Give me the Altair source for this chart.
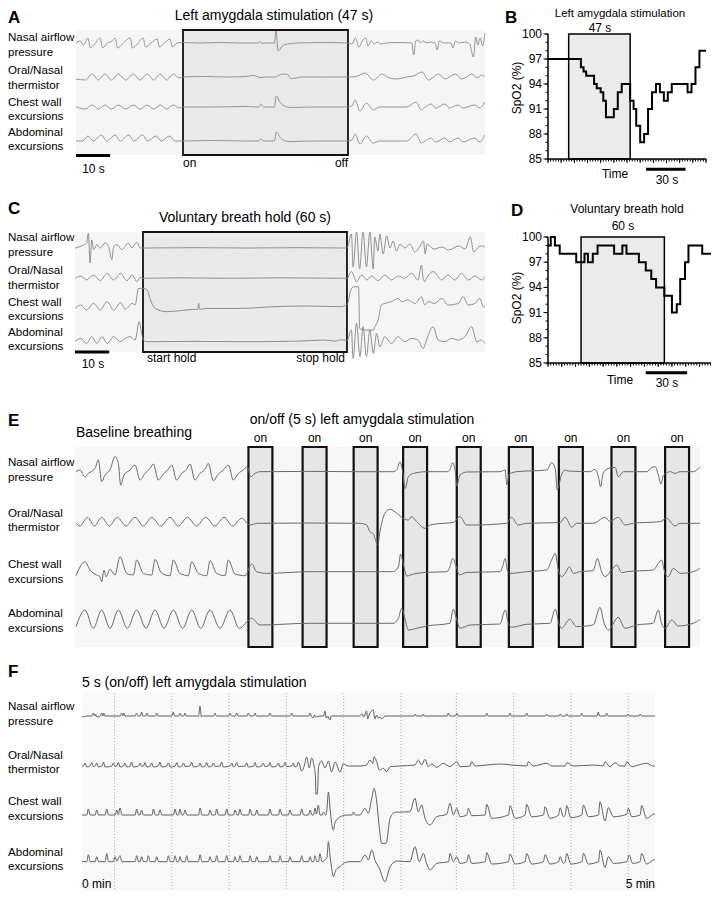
import altair as alt
import pandas as pd

FONT = "Liberation Sans"
W, H = 703, 883
M = 8

# ---------------- Panel A traces: [time s, deflection] pairs ----------------
A_nasal = [0,0, 1.2,2, 2.2,-2, 3.5,5, 4.2,-5, 5.5,-1, 7.1,5, 7.8,-5, 9.2,0, 10.2,1, 11.5,5, 12.2,-5, 13.6,-1, 15.9,5, 16.6,-5, 18,-1, 19.7,5, 20.4,-4, 22,0, 23.8,4, 24.5,-4, 26,0, 27.6,4, 28.3,-4, 29.6,0, 31.4,0.5, 36,0, 42,0.5, 48,0, 53.5,0, 54,1.5, 54.5,-0.5, 55.2,0, 58.2,0, 58.7,12, 59.3,-8, 60.5,-3, 62,-1, 65,0, 72,0.5, 79.6,0, 81,-1, 82,5, 83,-4, 84,2, 85,5, 85.7,-3, 86.6,2, 87.5,-1, 88.5,1, 89.5,-1, 91,0, 95,0.5, 98.5,0, 99.1,-12, 99.7,2, 100.3,3, 101,0, 101.8,2, 103,0, 104,1, 105.3,0, 106,-7, 106.6,2, 108,0, 110,0, 110.6,-5, 111.3,2, 112.5,0, 114,1, 115.5,-1, 116.6,-14, 117.3,6, 117.9,-2, 118.6,5, 119.3,-3, 120,10]
A_oral = [0,-2, 2.8,-3, 4.7,3, 6.6,-3, 8.5,3, 10.4,-3, 12.4,3, 14.6,-3, 16.8,3, 18.8,-3, 20.9,3, 22.8,-3, 24.7,3, 26.6,-3, 28.5,3, 30.3,-1, 31.4,0, 38,0.5, 44,0, 50,0.5, 52,1.5, 54,-0.5, 56,0, 58.5,0, 60,2.5, 61.8,3, 63.2,-1.5, 64.5,-1, 66,0, 72,0, 79.6,0, 81,0, 82.5,1, 84.8,4, 87.3,-3, 89.7,3, 92,-1, 94.1,-2, 97,0, 99,1, 101.5,5, 103.4,-3, 106.4,3, 108.3,-2, 111.3,3, 113.2,-2, 116.2,3, 117.6,-1, 119.1,2, 120,0]
A_chest = [0,0, 2.8,-2, 4.7,2, 6.6,-2, 8.5,2, 10.4,-2, 12.4,2, 14.6,-2, 16.8,2, 18.8,-2, 20.9,2, 22.8,-2, 24.7,2, 26.6,-2, 28.5,2, 30.3,-1, 31.4,0, 40,0, 50,0.5, 53.5,0, 54.2,3, 55,0, 58.2,0, 58.8,11, 60,4, 61.5,0.5, 63,-0.5, 70,0, 79.6,0, 81,1, 81.9,7, 83.3,-4, 85.2,4, 87.2,-3, 89,0, 97,0, 99.8,5, 101.3,-3, 102.5,0, 104.2,3, 105.5,-1, 108.2,3, 109.5,-1, 112.1,2, 113.5,-1, 117,2, 118.5,-1, 119.9,5]
A_abd = [0,0, 2,0, 3.5,5, 5,0, 7.5,6, 9,0, 11.5,6, 13,0, 15.5,6, 17,0, 19.5,6, 21,0, 23.5,5, 25,0, 27.5,5, 29,0, 31.4,0, 40,0.5, 50,0, 53.5,0, 54.2,2, 55,0, 58.2,0, 58.8,9, 60,3, 61.5,0, 63,-0.5, 70,0, 79.6,0, 81,1, 81.9,7, 83.3,-3, 85.2,5, 87.2,-2, 89,0, 97,0, 99.8,7, 101.3,-2, 102.5,0, 104.2,3, 105.5,-1, 108.2,3, 109.5,-1, 112.1,3, 113.5,-1, 117,3, 118.5,-1, 119.9,6]

# ---------------- Panel C traces ----------------
C_nasal = [0,0, 1.7,1.7, 3.4,5, 3.9,15, 4.4,-15, 4.9,8, 5.4,-1.7, 6.4,3.3, 7.4,0, 8.8,5, 9.8,1.7, 10.8,-11.7, 11.3,1.7, 12.3,3.3, 13.7,-1.7, 15.7,5, 16.7,0, 18.1,5.7, 19.1,0, 19.9,0, 35,0.3, 50,0, 65,0.3, 79.6,0, 80.9,14, 81.4,-19, 82.4,16, 83.3,-21, 84.3,16, 85.3,-19, 86.3,16, 87.3,-21, 87.7,11, 88.7,-3, 89.2,14, 90.2,-6, 91.2,12, 92.2,0, 93.1,7, 94.1,-3, 95.1,4, 96.6,0, 98,4, 99.5,-4, 101,2, 102,7, 102.5,-6, 103,4, 105,-1, 107.4,1, 109.3,-2, 112.3,2, 114.2,-1, 115.7,11, 116.7,-4, 118.1,1, 119.1,2, 120,1]
C_oral = [0,0, 1.7,2.3, 3.4,-1.7, 5.4,3.3, 7.4,-2.3, 9.4,5, 11.3,-1.7, 13.3,5, 15.2,-2.3, 16.7,3.3, 18.1,-3.3, 19.1,1, 19.9,0, 30,0.5, 45,0, 60,0.5, 79.6,0, 80.9,6.7, 82.4,-3.3, 83.9,3.3, 85.4,-1.7, 86.8,2.3, 88.7,-2.3, 90.7,3.3, 92.6,-1.7, 94.6,2.3, 96.5,0, 98.5,5, 100.4,-1.7, 101.4,13.3, 101.9,0, 102.4,-3.3, 102.9,0, 104.8,6.7, 107.3,-1.7, 109.2,3.3, 111.2,-1.7, 113.1,5, 115.1,-1.7, 117.1,2.3, 119,-1.7, 120,1.7]
C_chest = [0,-1.7, 1.7,1.7, 3.4,-3.3, 5.4,3.3, 7.4,-3.3, 9.4,5, 11.3,-3.3, 13.3,4, 14.7,-2.7, 16.7,3.3, 17.6,1.7, 18.6,18.3, 19.9,18.3, 21.1,16.7, 22.1,6.7, 23,0, 25,-4, 26.9,-5, 30.8,-4, 34.7,-2.7, 35.9,-2.7, 36.2,3.3, 36.5,-2.7, 38.6,-1.7, 48.4,-1.7, 58,0, 67.8,0.7, 77.5,0, 79.6,1.7, 80.9,18.3, 81.9,20, 83,20, 83.3,-21.7, 84.8,-23.3, 87.3,-23.3, 87.8,-20, 88.7,-13.3, 89.7,1.7, 90.7,3.3, 92.6,5, 94.6,8.3, 95.6,5, 97.5,6.7, 99.5,3.3, 101.4,10, 102.4,1.7, 103.4,5, 105.3,3.3, 107.3,8.3, 109.2,1.7, 112.2,3.3, 113.6,10, 115.1,1.7, 117.1,3.3, 118.5,8.3, 119.5,0, 120,1]
C_abd = [0,0, 1.7,3.3, 3.4,-1.7, 4.9,5, 6.4,-1.7, 7.9,5, 9.4,-1.7, 11.3,5, 13.3,0, 14.7,3.3, 16.1,5, 17.6,1.7, 18.8,20, 19.5,8.3, 20,1.7, 21,0, 35,0.3, 50,0, 65,0.5, 73,1.7, 76,0.5, 78,2, 79.6,1, 80.9,11.7, 81.4,-16.7, 82.4,18.3, 83.4,-15, 84.3,15, 85.3,-15, 86.3,11.7, 87.3,-11.7, 88.3,8.3, 89.2,-5, 90.7,5, 92.6,-1.7, 94.6,5, 96.5,0, 98.5,3.3, 100.4,1.7, 101.9,-6.7, 102.9,1.7, 104.8,15, 106.3,1.7, 108.3,0, 110.2,3.3, 112.2,1.7, 114.1,5, 116.1,15, 117.6,0, 119,1.7, 120,-1.7]

# ---------------- Panel E traces ----------------
E_nasal = [0.2,0, 0.96,1.7, 1.9,-5, 2.56,-1.7, 3.84,3.3, 4.48,11.7, 5.12,-10, 5.76,-3.3, 6.72,1.7, 7.68,15, 8.32,8.3, 8.77,-13.3, 9.41,-3.3, 10.56,1.7, 11.52,6.7, 12.48,-8.3, 13.44,-1.7, 14.4,3.3, 15.04,7.7, 16,-8.3, 16.96,-2.3, 17.92,2.3, 18.56,6.7, 19.52,-8.3, 20.48,-1.7, 21.44,2.3, 22.08,7.7, 23.04,-8.3, 24,-1.7, 24.96,2.3, 25.6,8.3, 26.56,-9, 27.52,-2.3, 28.6,2.3, 29.44,6.7, 30.4,-8.3, 31.36,-1.7, 32.32,1.7, 33.09,5, 33.73,-5, 34.56,-1.7, 35.5,0, 45,0.3, 54.7,0, 61.1,0, 61.8,2.3, 62.4,10, 62.9,0, 63.4,-16.7, 64,-5, 65,-1.7, 67.5,0, 71.4,0, 72,2.3, 72.5,9, 73,0, 73.3,-14.3, 73.9,-3.3, 75.2,-0.3, 81.6,0, 82.6,1.7, 82.9,-13.3, 83.4,-2.3, 84.8,0, 90.6,1.7, 91.5,9, 92.2,3.3, 92.6,-18.3, 93.4,-3.3, 94.1,1.7, 94.7,0.7, 98.9,0, 99.8,2.3, 100.5,-5, 100.9,-15, 101.4,-1.7, 102.4,3.3, 103.7,4.3, 104.3,-5, 105.3,0, 109.8,0, 110.7,4.3, 111.4,5, 112,-3.3, 112.5,-12.3, 113,-3.3, 114.3,0, 115.2,-1.7, 116.2,0, 118.7,0, 120,5]
E_oral = [0.2,0, 0.96,-2.7, 2.37,6, 3.71,-2.7, 5.12,6, 6.59,-2.7, 8.13,6, 9.79,-2.7, 11.52,6, 13.12,-2.7, 14.72,6, 16.45,-2.7, 18.24,6, 19.84,-2.7, 21.57,6, 23.36,-2.7, 25.09,6, 26.88,-2.7, 28.61,6, 30.27,-2.7, 32,5, 33.6,-1.7, 35,0, 45,0.3, 54.7,0, 56,-1.7, 56.6,-8.3, 57.3,-10.7, 57.8,-18.3, 58.1,-21.7, 58.6,-6.7, 59.5,10, 60.5,14, 61.8,10, 63,5, 64,3.3, 64.6,6.7, 65.6,1.7, 67.2,-5, 68.2,-1.7, 70.7,0, 72.6,0.7, 73.9,6.7, 75.2,-1.7, 76.5,-1.7, 82.9,0, 83.8,6, 85.1,-1.7, 86.7,0, 93.1,0.7, 94.1,6, 95.4,-4, 96.3,0, 99.5,0, 101.8,6, 102.7,1.7, 104.3,6, 105.6,-1.7, 107.2,0, 112.3,1.7, 113.6,5, 115.2,-2.7, 116.2,0, 120,0]
E_chest = [0.2,-4, 1.92,10, 2.88,1.7, 4.16,-3.3, 4.8,-5, 5.12,-10, 5.57,1.7, 5.95,-5, 6.72,2.3, 7.68,-3.3, 8.64,15, 9.92,-1.7, 11.2,-3.3, 11.84,11.7, 13.12,-1.7, 14.72,-3.3, 15.36,12.3, 16.64,-1.7, 18.24,-4, 18.88,11.7, 20.16,-1.7, 21.76,-4, 22.4,10, 23.68,-1.7, 25.28,-4, 25.92,11, 27.2,-1.7, 28.8,-4, 29.44,11.7, 30.72,-2.3, 32.64,-4, 33.92,7.7, 34.88,0, 36.8,-1.7, 45,0, 54.7,0, 61.1,0, 62.1,5, 62.5,17.7, 63,8.3, 63.7,-4.3, 65,-2.3, 67.5,-0.7, 71.4,0, 72,5, 72.5,13.3, 73.3,3.3, 73.8,-3.3, 75.2,-0.7, 81.6,0, 82.1,5, 82.6,13.3, 83,1.7, 83.5,-1.7, 86.7,0, 90.6,1.7, 91.5,11.7, 92.2,18.3, 92.8,1.7, 93.4,-5, 94.3,0, 94.9,5, 95.7,-1.7, 96.9,0, 99.5,1, 100.3,13.3, 101.1,0, 101.8,-5, 103,1.7, 104,6.7, 105,-1, 105.9,0, 111,1.7, 112,8.3, 112.6,11.7, 113.3,-1.7, 113.9,-5, 114.9,3.3, 116.2,-1.7, 118.7,0, 120,3.3]
E_abd = [0.2,-3.3, 1.92,13.3, 3.52,-5, 5.12,13.3, 6.72,-5, 8.32,13.3, 10.05,-5, 11.84,13.3, 13.63,-5, 15.36,13.3, 17.09,-5, 18.88,13.3, 20.67,-5, 22.4,13.3, 24.13,-5, 25.92,13.3, 27.84,-5, 29.76,13.3, 31.55,-5, 33.92,5, 35.52,-1.7, 45,0, 54.7,0, 61.1,0, 62.1,5, 62.7,15, 63.4,3.3, 64,-6.7, 65.6,-5, 67.5,-2.7, 72,0, 72.6,14, 73.4,1.7, 73.9,-5, 75.8,-1.7, 81.6,-0.7, 82.6,13.3, 83.2,0, 83.8,-4, 86.7,-1, 91.2,0, 92.2,14, 92.9,0, 93.4,-5, 95,4, 96.3,-3.3, 99.5,-1.7, 100.8,16, 101.6,0, 102.4,-6.7, 104.3,6, 105.6,-5, 107.8,-1.7, 111,0, 112,13.3, 112.6,0, 113.3,-5, 114.6,3.3, 115.8,-2.7, 118.7,0, 120,4]

# ---------------- Panel F traces ----------------
F_nasal = [0,0, 0.7,-1, 2,0, 5.2,0, 5.9,3, 6.6,0, 7.1,2, 7.7,-1, 9.6,0, 10.3,3, 11,0, 11.4,3, 12,0, 19.9,0, 20.8,3, 21.5,0, 22,3, 22.5,0, 27.8,0, 28.6,3, 29.3,0, 30.5,0, 31.2,4, 31.9,0, 33.3,0, 33.9,3, 34.6,0, 38.5,0, 39.1,3, 39.8,0, 47,0, 47.8,4, 48.5,0, 50.6,0, 51.3,3, 52,0, 53.3,0, 53.9,3, 54.6,0, 61,0, 61.8,10, 62.5,-1, 63.2,0, 68.9,0, 69.6,3, 70.3,0, 76.8,0, 77.5,3, 78.2,0, 80.3,0, 81,3, 81.7,0, 86.4,0, 87.1,3, 87.8,0, 89.9,0, 90.6,3, 91.3,0, 97.7,0, 98.4,3, 99.1,0, 109.1,0, 109.8,3, 110.5,0, 118.7,0, 119.4,3, 120.1,0, 121.1,-2, 121.6,1, 122.3,-1, 124.6,0, 126.5,0, 127.2,5, 127.9,-2, 128.5,0, 129.8,-4, 130.6,0, 145,0, 146.8,2, 147.5,-1, 149,5, 149.6,-3, 150.3,1, 152.5,6, 153.3,-3, 154.3,1, 155,-2, 156,-1, 157,-3, 158.6,0, 174,0, 174.5,2, 175.1,0, 178.2,0, 178.7,2, 179.3,0, 191.2,0, 191.8,3, 192.5,0, 195.6,0, 196.2,3, 196.9,0, 211.3,0, 211.9,3, 212.6,0, 223.5,0, 224.1,3, 224.8,0, 232.2,0, 232.8,3, 233.5,0, 242.7,0, 243.3,2, 244,0, 249.7,0, 250.3,2, 251,0, 253.2,0, 253.8,2, 254.5,0, 261,0, 261.6,3, 262.3,0, 269.6,0, 270.3,4, 271,0, 274.1,0, 274.7,3, 275.4,0, 285.4,0, 286,2, 286.7,0, 291.6,0, 292.2,2, 292.9,0, 300,0]
F_oral = [0,0, 0.8,0, 1.6,3, 2.5,-1, 4.3,0, 5.1,3.5, 6,-0.5, 6.9,0, 7.7,3, 8.6,-1, 10.4,0, 11.2,4, 12.1,-1, 15.6,0, 16.4,3, 17.3,-0.5, 18.2,0, 19,3.5, 19.9,-1, 21.7,0, 22.5,3, 23.4,-1, 25.2,0, 26,4, 26.9,-1, 29.6,0, 30.4,3, 31.3,-0.5, 32.2,0, 33,3.5, 33.9,-1, 35.7,0, 36.5,3, 37.4,-1, 40,0, 40.8,4, 41.7,-1, 44.4,0, 45.2,3, 46.1,-1, 48.8,0, 49.6,3.5, 50.5,-1, 52.3,0, 53.1,3, 54,-0.5, 56.6,0, 57.4,4, 58.3,-1, 61,0, 61.8,3, 62.7,-1, 64.5,0, 65.3,3.5, 66.2,-1, 68,0, 68.8,3, 69.7,-0.5, 72.3,0, 73.1,4, 74,-1, 77.6,0, 78.4,3, 79.3,-1, 80.2,0, 81,3.5, 81.9,-0.5, 85.4,0, 86.2,3, 87.1,-1, 89.8,0, 90.6,3.5, 91.5,-1, 94.1,0, 94.9,3, 95.8,-0.5, 97.6,0, 98.4,3.5, 99.3,-1, 102,0, 102.8,3, 103.7,-1, 105.5,0, 106.3,3.5, 107.2,-0.5, 109.8,0, 110.6,3, 111.5,-1, 112.5,0, 113.3,4, 115,-5, 116.5,1, 117.6,9, 119,-2, 120.2,8, 121.5,0, 122.2,-10, 122.5,-28, 123.2,-28, 123.9,0, 125.5,5, 127.2,-2, 129,5, 130.7,-6, 132.5,4, 135.1,-6, 136.8,2, 139.4,0, 145.6,0, 149,1, 150.8,6, 152.2,2.7, 152.9,9.3, 154.3,4.3, 155.7,-4, 157.8,-2.3, 159.5,-5.7, 161.3,-0.7, 166.5,0, 174.3,1, 176.1,6, 177.8,1, 179.6,6.7, 181.3,-0.7, 183.1,2, 185.7,-1.3, 189.2,2.7, 192.7,-0.7, 196.2,4.3, 197.9,-0.7, 203.2,0, 204,4.3, 205.8,0, 211.9,1, 218.9,2, 225,1, 232.9,0, 233.7,4.3, 236.3,0, 243.3,2.7, 246,0, 253,0, 253.8,3.3, 257.3,0, 267.7,1, 273,0, 273.8,4.3, 276.4,-0.7, 279.1,3.3, 281.7,0, 284.4,0, 285.2,4.3, 287.8,-0.7, 291.3,1, 295.6,2.7, 299.1,0, 300,0]
F_chest = [0,0, 2.5,0, 3.3,6, 4.3,0, 6.9,0, 7.7,5, 8.7,0, 12.1,0, 12.9,6, 13.9,0, 17.4,0, 18.2,5, 19,0.5, 19.9,7, 20.9,0, 27.8,0, 28.6,6, 29.6,0, 30.4,0, 31.2,5, 32.2,0, 36.6,0, 37.4,6, 38.4,0, 40,0, 40.8,5, 41.8,0, 47.9,0, 48.7,6, 49.7,0, 50.5,0, 51.3,6, 52.3,0, 53.1,0, 53.9,5, 54.9,0, 61,0, 61.8,7, 62.8,0, 66.2,0, 67,5, 68,0, 69.7,0, 70.5,6, 71.5,0, 74.9,0, 75.7,6, 76.7,0, 79.3,0, 80.1,5, 81.1,0, 81.9,0, 82.7,6, 83.7,0, 87.2,0, 88,6, 89,0, 90.7,0, 91.5,5, 92.5,0, 97.6,0, 98.4,6, 99.4,0, 102.9,0, 103.7,6, 104.7,0, 108.1,0, 108.9,5, 109.9,0, 114.2,0, 115,6, 116,0, 118.6,0, 119.4,5, 120.4,0, 121.2,0, 122,7, 122.8,1, 123.7,10, 124.6,0, 125.8,0, 126.4,3, 127.5,0, 128.2,5, 129,23, 129.8,8, 131,-12, 131.6,-15, 132.4,-8, 133.3,-5, 135,-2, 138.6,0, 141.4,0, 142.1,3, 143,0, 145.6,0, 148.2,6.7, 149.9,1.7, 151.7,16.7, 152.9,26.7, 154.3,13.3, 155.7,-13.3, 156.9,-28.3, 159.2,-28.3, 161.3,-3.3, 163.9,2.7, 171.7,3.3, 174.3,16.7, 176.1,3.3, 177.8,10, 179.6,-3.3, 182.2,-10, 185.7,-1.7, 190.9,0.7, 192.7,11.7, 194.4,0, 196.2,6.7, 197.9,-1.7, 201.5,0, 202.3,6.7, 204,-0.7, 211.1,0, 211.9,10.7, 214.5,-3.3, 223.3,0, 224.1,9.3, 226.7,-3.3, 232,0, 232.8,10.7, 235.4,-1.7, 241.6,0, 242.4,8.3, 245,-3.3, 249.5,0, 250.3,7.3, 252,-1.7, 253,0, 253.8,9.3, 255.9,-2.7, 261.7,0, 262.5,10, 265.1,-1.7, 270.4,0, 271.2,13.3, 273.8,-6, 275.6,7.3, 278.2,-1.7, 285.2,0.7, 286,6.7, 287.8,-1.7, 292.2,0, 293,9.3, 295.6,-3.3, 299.1,0.7, 300,1]
F_abd = [0,0, 2.5,0, 3.3,7, 4.3,0, 6.9,0, 7.7,5, 8.7,0, 12.1,0, 12.9,8, 13.9,0, 16.5,0, 17.3,5, 18.2,0.5, 19.9,6, 20.9,0, 27.8,0, 28.6,6, 29.6,0, 30.4,0, 31.2,5, 32.2,0, 33.9,0, 34.7,6, 35.7,0, 38.3,0, 39.1,5, 40.1,0, 44.4,0, 45.2,6, 46.2,0, 47.9,0, 48.7,6, 49.7,0, 50.5,0, 51.3,5, 52.3,0, 54,0, 54.8,6, 55.8,0, 61,0, 61.8,7, 62.8,0, 66.2,0, 67,5, 68,0, 69.7,0, 70.5,6, 71.5,0, 74.9,0, 75.7,6, 76.7,0, 79.3,0, 80.1,5, 81.1,0, 81.9,0, 82.7,6, 83.7,0, 87.2,0, 88,6, 89,0, 90.7,0, 91.5,5, 92.5,0, 97.6,0, 98.4,6, 99.4,0, 102.9,0, 103.7,6, 104.7,0, 108.1,0, 108.9,5, 109.9,0, 114.2,0, 115,6, 116,0, 118.6,0, 119.4,5, 120.4,0, 121.2,0, 122,6, 123,0, 123.8,0, 124.6,8, 125.6,0, 128.2,4, 129,20, 129.9,5, 131,-10, 131.6,-15, 133,-8, 135.1,-5, 137.5,-1, 140.3,0, 145.6,0, 148.2,6.7, 149.9,1.7, 151.7,11.7, 153.5,1, 155.7,-6.7, 158.6,-20, 161.3,-5, 164.8,0.7, 171.7,0, 174.3,15, 176.6,0, 178.7,8.3, 180.5,-2.3, 182.2,-8.3, 185.7,-1.7, 191.9,0, 192.7,8.3, 194.4,0, 196.2,5, 197.9,-1.7, 201.5,0, 202.3,7, 204,-1.7, 211.1,0, 211.9,9, 214.5,-2.3, 223.3,0, 224.1,7.7, 226.7,-2.3, 232,0, 232.8,8.3, 235.4,-2.3, 241.6,0, 242.4,7, 245,-2.3, 249.5,0, 250.3,5, 252,-1.7, 253,0, 253.8,8.3, 255.9,-2.3, 261.7,0, 262.5,8.3, 265.1,-2.3, 270.4,0, 271.2,11.7, 273.8,-5.7, 275.6,5, 278.2,-1.7, 285.2,0, 286.5,6.7, 288.3,-1.7, 292.2,0, 293,8.3, 295.6,-2.3, 299.1,1.7, 300,2]

# ---------------- SpO2 (panels B and D) ----------------
B_time = [0, 25, 27, 29, 35, 37, 40, 42, 44, 50, 53, 56, 62.4, 65, 67, 70, 73, 76, 79, 82, 85, 88, 91, 94, 106, 109, 112, 115, 120]
B_spo2 = [97, 96, 95.5, 95, 94, 93.5, 93, 92, 90, 91, 93, 94, 92, 91, 89, 87, 88, 91, 93, 94, 93, 92, 93, 94, 93, 94, 96, 98, 98]
D_time = [0, 2, 5, 8.5, 20.5, 26.5, 29, 32.5, 36, 48, 54, 57, 66, 71, 75, 78.5, 84.5, 90, 93.5, 96, 99.5, 102, 112, 121, 122]
D_spo2 = [99, 100, 99, 98, 97, 98, 97, 98, 99, 98, 99, 98, 97, 96, 95, 94, 93, 91, 92, 95, 97, 99, 98, 97, 97]
SPO2_TICKS = list(range(85, 101))
SPO2_LABELED = [85, 88, 91, 94, 97, 100]

# stimulation / hold windows (s)
A_stim = (31.4, 79.8)
B_stim = (15.7, 62.4)
C_hold = (19.9, 79.6)
D_hold = (24.0, 84.5)
E_on = [33.3, 43.7, 53.5, 63.0, 73.3, 83.3, 92.9, 103.0, 113.3]
E_len = 4.6
F_grid = [17, 47, 77, 107, 137, 167, 196, 226, 256, 286]

CHANNELS = ["Nasal airflow", "pressure", "Oral/Nasal", "thermistor",
            "Chest wall", "excursions", "Abdominal", "excursions"]


def P(v):
    return v - M


def lin(domain, r0, r1):
    return alt.Scale(domain=domain, range=[P(r0), P(r1)], nice=False, zero=False)


def traces_df(traces, offsets):
    rows = []
    for name, arr in traces.items():
        assert len(arr) % 2 == 0, name
        for i in range(0, len(arr), 2):
            rows.append({"t": arr[i], "y": arr[i + 1] + offsets[name], "ch": name})
    return pd.DataFrame(rows)


def trace_panel(traces, offsets, t_dom, xpx, y_dom, ypx, boxes, bg, box_fill,
                box_sw, line_color, line_w, extra=()):
    xs = lin(t_dom, *xpx)
    ys = lin(y_dom, *ypx)
    bgdf = pd.DataFrame({"t0": [t_dom[0]], "t1": [t_dom[1]], "y0": [y_dom[0]], "y1": [y_dom[1]]})
    bg_l = alt.Chart(bgdf).mark_rect(color=bg).encode(
        x=alt.X("t0:Q", scale=xs, axis=None), x2="t1:Q",
        y=alt.Y("y0:Q", scale=ys, axis=None), y2="y1:Q")
    layers = [bg_l]
    if boxes:
        bdf = pd.DataFrame({"t0": [b[0] for b in boxes], "t1": [b[1] for b in boxes],
                            "y0": y_dom[0], "y1": y_dom[1]})
        layers.append(alt.Chart(bdf).mark_rect(fill=box_fill, stroke="#111", strokeWidth=box_sw).encode(
            x=alt.X("t0:Q", scale=xs, axis=None), x2="t1:Q",
            y=alt.Y("y0:Q", scale=ys, axis=None), y2="y1:Q"))
    for ex in extra:
        layers.append(ex(xs, ys))
    line = alt.Chart(traces_df(traces, offsets)).mark_line(
        color=line_color, strokeWidth=line_w, interpolate="monotone").encode(
        x=alt.X("t:Q", scale=xs, axis=None),
        y=alt.Y("y:Q", scale=ys, axis=None),
        detail="ch:N")
    layers.append(line)
    return layers, xs, ys


def bar_layer(xs, t0, t1, ypage):
    d = pd.DataFrame({"t0": [t0], "t1": [t1]})
    return alt.Chart(d).mark_rule(color="black", strokeWidth=3).encode(
        x=alt.X("t0:Q", scale=xs, axis=None), x2="t1:Q", y=alt.value(P(ypage)))


# ---------- Panel A ----------
A_layers, A_xs, A_ys = trace_panel(
    {"nasal": A_nasal, "oral": A_oral, "chest": A_chest, "abd": A_abd},
    {"nasal": 112, "oral": 78, "chest": 48, "abd": 14},
    [0, 120], (76, 485), [0, 125], (155, 30), [A_stim], "#f5f5f5", "#e9e9e9", 1.8,
    "#8a8a8a", 0.9)
A_layers.append(bar_layer(A_xs, 0, 10, 155.5))
panelA = alt.layer(*A_layers)

# ---------- Panel C ----------
C_layers, C_xs, C_ys = trace_panel(
    {"nasal": C_nasal, "oral": C_oral, "chest": C_chest, "abd": C_abd},
    {"nasal": 104, "oral": 73.7, "chest": 45.3, "abd": 10.3},
    [0, 120], (75, 485), [0, 120], (352, 232), [C_hold], "#f5f5f5", "#e9e9e9", 1.8,
    "#858585", 0.9)
C_layers.append(bar_layer(C_xs, 0, 10, 352))
panelC = alt.layer(*C_layers)

# ---------- Panel E ----------
E_layers, E_xs, E_ys = trace_panel(
    {"nasal": E_nasal, "oral": E_oral, "chest": E_chest, "abd": E_abd},
    {"nasal": 175.3, "oral": 123.7, "chest": 75.3, "abd": 23.7},
    [0, 120], (75, 700), [0, 200], (647, 447), [(s, s + E_len) for s in E_on],
    "#f7f7f7", "#e6e6e6", 2.2, "#6a6a6a", 1.0)
on_df = pd.DataFrame({"tc": [s + E_len / 2 for s in E_on], "lab": ["on"] * len(E_on)})
E_layers.append(alt.Chart(on_df).mark_text(font=FONT, fontSize=12, baseline="middle", align="center", color="black").encode(
    x=alt.X("tc:Q", scale=E_xs, axis=None), y=alt.value(P(438)), text="lab:N"))
panelE = alt.layer(*E_layers)


# ---------- Panel F ----------
def f_grid(xs, ys):
    g = pd.DataFrame({"t": F_grid, "y0": 0, "y1": 203})
    return alt.Chart(g).mark_rule(color="#9a9a9a", strokeWidth=0.8, strokeDash=[1, 2]).encode(
        x=alt.X("t:Q", scale=xs, axis=None), y=alt.Y("y0:Q", scale=ys, axis=None), y2="y1:Q")


F_layers, F_xs, F_ys = trace_panel(
    {"nasal": F_nasal, "oral": F_oral, "chest": F_chest, "abd": F_abd},
    {"nasal": 179, "oral": 129, "chest": 80, "abd": 33.3},
    [0, 300], (82, 655), [0, 203], (895, 692), [], "#f8f8f8", "#e6e6e6", 2,
    "#4f4f4f", 0.9, extra=[f_grid])
panelF = alt.layer(*F_layers)


# ---------- SpO2 panels (axes drawn from tick lists) ----------
def spo2_panel(times, vals, t_dom, x0, x1, ytop, ybot, box, bar, bar_y):
    xs = lin(t_dom, x0, x1)
    ys = lin([85, 100], ybot, ytop)
    enc_x = lambda f: alt.X(f, scale=xs, axis=None)
    enc_y = lambda f: alt.Y(f, scale=ys, axis=None)
    bdf = pd.DataFrame({"t0": [box[0]], "t1": [box[1]], "s0": [85], "s1": [100]})
    box_l = alt.Chart(bdf).mark_rect(fill="#ebebeb", stroke="black", strokeWidth=1.5).encode(
        x=enc_x("t0:Q"), x2="t1:Q", y=enc_y("s0:Q"), y2="s1:Q")
    line = alt.Chart(pd.DataFrame({"t": times, "s": vals})).mark_line(
        interpolate="step-after", color="black", strokeWidth=2).encode(
        x=enc_x("t:Q"), y=enc_y("s:Q"))
    ydom = alt.Chart(pd.DataFrame({"t": [t_dom[0]], "s0": [85], "s1": [100]})).mark_rule(
        color="black", strokeWidth=1.5).encode(x=enc_x("t:Q"), y=enc_y("s0:Q"), y2="s1:Q")
    xdom = alt.Chart(pd.DataFrame({"t0": [t_dom[0]], "t1": [t_dom[1]], "s": [85]})).mark_rule(
        color="black", strokeWidth=1.5).encode(x=enc_x("t0:Q"), x2="t1:Q", y=enc_y("s:Q"))
    yt_minor = alt.Chart(pd.DataFrame({"s": SPO2_TICKS})).mark_rule(color="black", strokeWidth=1).encode(
        x=alt.value(P(x0) - 2.5), x2=alt.value(P(x0)), y=enc_y("s:Q"))
    yt_major = alt.Chart(pd.DataFrame({"s": SPO2_LABELED})).mark_rule(color="black", strokeWidth=1).encode(
        x=alt.value(P(x0) - 4.5), x2=alt.value(P(x0)), y=enc_y("s:Q"))
    ylab = alt.Chart(pd.DataFrame({"s": SPO2_LABELED, "lab": [str(v) for v in SPO2_LABELED]})).mark_text(
        font=FONT, fontSize=12, align="right", baseline="middle", color="black").encode(
        x=alt.value(P(x0) - 6), y=enc_y("s:Q"), text="lab:N")
    xt_vals = list(range(0, int(t_dom[1]) + 1, 2))
    xt_major = list(range(0, int(t_dom[1]) + 1, 10))
    xt_minor = alt.Chart(pd.DataFrame({"t": xt_vals})).mark_rule(color="black", strokeWidth=1).encode(
        x=enc_x("t:Q"), y=alt.value(P(ybot)), y2=alt.value(P(ybot) + 2.5))
    xt_maj = alt.Chart(pd.DataFrame({"t": xt_major})).mark_rule(color="black", strokeWidth=1).encode(
        x=enc_x("t:Q"), y=alt.value(P(ybot)), y2=alt.value(P(ybot) + 4))
    return alt.layer(box_l, line, ydom, xdom, yt_minor, yt_major, ylab, xt_minor, xt_maj,
                     bar_layer(xs, bar[0], bar[1], bar_y))


panelB = spo2_panel(B_time, B_spo2, [0, 120], 548, 706, 34, 159, B_stim, (74.5, 104.5), 169.3)
panelD = spo2_panel(D_time, D_spo2, [0, 122], 548, 716, 237, 363, D_hold, (71, 101), 372.7)

# ---------- text (page coordinates) ----------
LABELS = [
    # text, x, y, size, weight, align, angle
    ("A", 8, 17.5, 17, "bold", "left", 0), ("B", 505, 17.5, 17, "bold", "left", 0),
    ("C", 8, 209, 17, "bold", "left", 0), ("D", 511, 211, 17, "bold", "left", 0),
    ("E", 8, 421, 17, "bold", "left", 0), ("F", 8, 672, 17, "bold", "left", 0),
    ("Left amygdala stimulation (47 s)", 274, 16, 14, "normal", "center", 0),
    ("Voluntary breath hold (60 s)", 245, 218, 14, "normal", "center", 0),
    ("on/off (5 s) left amygdala stimulation", 362, 420, 14, "normal", "center", 0),
    ("Baseline breathing", 76, 433, 14, "normal", "left", 0),
    ("5 s (on/off) left amygdala stimulation", 82, 683, 14, "normal", "left", 0),
    ("Left amygdala stimulation", 620, 14, 11.5, "normal", "center", 0),
    ("47 s", 600, 28, 12, "normal", "center", 0),
    ("Voluntary breath hold", 627, 209, 12, "normal", "center", 0),
    ("60 s", 623, 226, 12, "normal", "center", 0),
    ("SpO2 (%)", 517, 88, 12, "normal", "center", 270),
    ("SpO2 (%)", 517, 298, 12, "normal", "center", 270),
    ("Time", 615, 174, 12, "normal", "center", 0), ("30 s", 667, 180, 12, "normal", "center", 0),
    ("Time", 620, 380, 12, "normal", "center", 0), ("30 s", 667, 383, 12, "normal", "center", 0),
    ("10 s", 93.5, 169, 12, "normal", "center", 0), ("10 s", 93, 364, 12, "normal", "center", 0),
    ("on", 183, 163, 12, "normal", "left", 0), ("off", 348, 163, 12, "normal", "right", 0),
    ("start hold", 147, 358, 12, "normal", "left", 0), ("stop hold", 345, 358, 12, "normal", "right", 0),
    ("0 min", 82, 884, 12, "normal", "left", 0), ("5 min", 655, 884, 12, "normal", "right", 0),
]
CH_Y = {
    "A": [38.3, 53, 71, 86, 102.7, 117.3, 133.3, 147.3],
    "C": [238.3, 252.7, 271, 285.7, 302.7, 317.3, 333.3, 347.3],
    "E": [463.3, 477.7, 514.3, 528.3, 565, 580, 614, 629],
    "F": [707.3, 721.7, 756, 770, 802.3, 816.7, 852.7, 866.7],
}
for ys_ in CH_Y.values():
    for txt, yy in zip(CHANNELS, ys_):
        LABELS.append((txt, 8, yy, 11.6, "normal", "left", 0))

lab = pd.DataFrame(LABELS, columns=["text", "x", "y", "size", "weight", "align", "angle"])
TX = alt.Scale(domain=[M, M + W], range=[0, W], nice=False, zero=False)
TY = alt.Scale(domain=[M, M + H], range=[0, H], nice=False, zero=False)
text_layers = []
for (wt, al, ang), sub in lab.groupby(["weight", "align", "angle"]):
    text_layers.append(alt.Chart(sub).mark_text(
        font=FONT, fontWeight=wt, align=al, baseline="middle", color="black", angle=int(ang)).encode(
        x=alt.X("x:Q", scale=TX, axis=None), y=alt.Y("y:Q", scale=TY, axis=None),
        text="text:N", size=alt.Size("size:Q", scale=None)))
panelT = alt.layer(*text_layers)

chart = alt.layer(panelA, panelB, panelC, panelD, panelE, panelF, panelT).resolve_scale(
    x="independent", y="independent").properties(
    width=W, height=H, autosize=alt.AutoSizeParams(type="none"), padding=0,
    background="white").configure_view(stroke=None)

chart.save("out.html", embed_options={"renderer": "svg", "actions": False})
